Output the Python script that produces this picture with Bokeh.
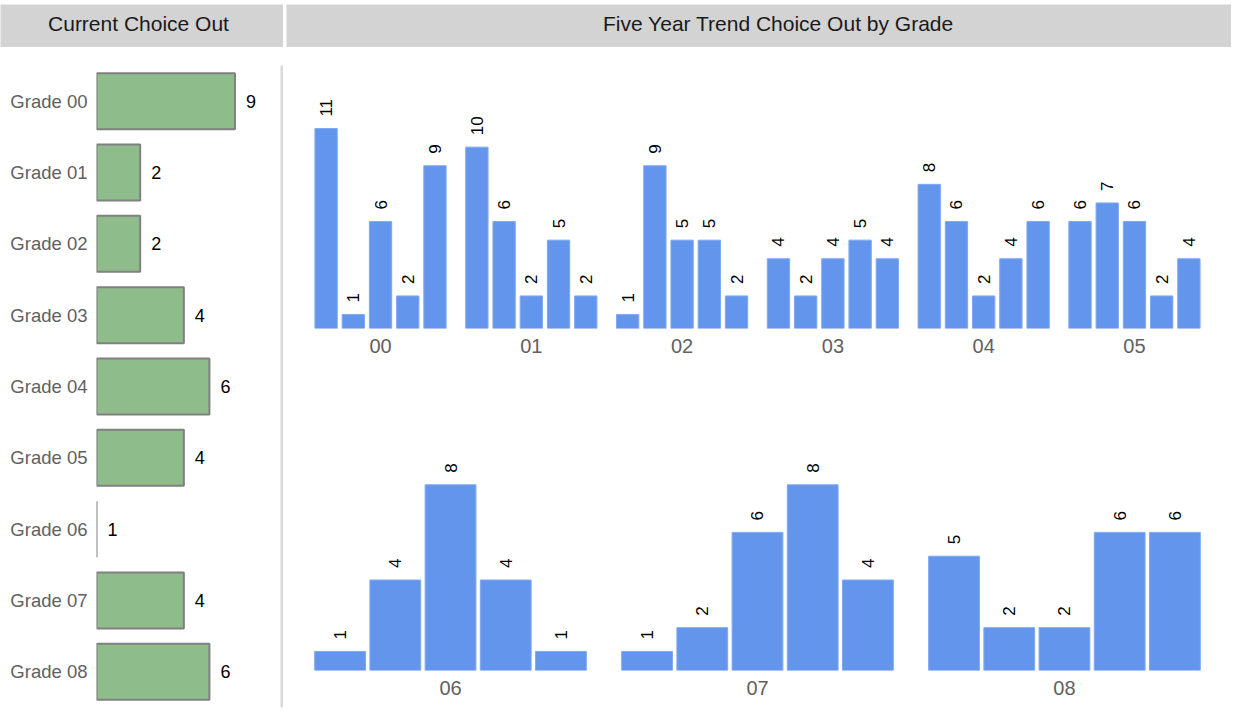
import math
from bokeh.plotting import figure
from bokeh.layouts import row, column
from bokeh.models import ColumnDataSource, Range1d, FactorRange, FixedTicker, Label, LabelSet
from bokeh.core.properties import value
from bokeh.embed import file_html
from bokeh.resources import INLINE

# ---------------- data ----------------
current_grades = ["Grade 00", "Grade 01", "Grade 02", "Grade 03", "Grade 04",
                  "Grade 05", "Grade 06", "Grade 07", "Grade 08"]
current_values = [9, 2, 2, 4, 6, 4, 1, 4, 6]

years = ["Y1", "Y2", "Y3", "Y4", "Y5"]
top_grades = ["00", "01", "02", "03", "04", "05"]
top_values = [
    [11, 1, 6, 2, 9],
    [10, 6, 2, 5, 2],
    [1, 9, 5, 5, 2],
    [4, 2, 4, 5, 4],
    [8, 6, 2, 4, 6],
    [6, 7, 6, 2, 4],
]
bottom_grades = ["06", "07", "08"]
bottom_values = [
    [1, 4, 8, 4, 1],
    [1, 2, 6, 8, 4],
    [5, 2, 2, 6, 6],
]

FONT = "Liberation Sans"
HEADER_BG = "#d3d3d3"
LABEL_GREY = "#616161"


def base_fig(w, h, **kw):
    p = figure(width=w, height=h, toolbar_location=None, output_backend="svg", **kw)
    p.grid.visible = False
    p.outline_line_color = None
    p.background_fill_color = "white"
    p.border_fill_color = "white"
    return p


def header(w, h, text, xfrac):
    p = base_fig(w, h, x_range=Range1d(0, 1), y_range=Range1d(0, 1), min_border=0)
    p.axis.visible = False
    p.background_fill_color = HEADER_BG
    p.border_fill_color = HEADER_BG
    p.add_layout(Label(x=xfrac, y=0.55, text=text, text_font=FONT, text_font_size="21px",
                       text_align="center", text_baseline="middle", text_color="#1a1a1a"))
    return p


def blank(w, h, top, color):
    p = base_fig(w, h, x_range=Range1d(0, 1), y_range=Range1d(0, 1), min_border=0,
                 min_border_top=top)
    p.axis.visible = False
    p.background_fill_color = color
    return p


# ---------------- headers ----------------
top_space = blank(1231, 4, 0, "white")
hdr_left = header(283, 43, "Current Choice Out", 0.4876)
hdr_gap = blank(3, 43, 0, "white")
hdr_right = header(945, 43, "Five Year Trend Choice Out by Grade", 0.5206)

# ---------------- left: current choice out ----------------
src_cur = ColumnDataSource(dict(grade=current_grades, value=current_values,
                                label=[str(v) for v in current_values]))
left = base_fig(280, 670, y_range=FactorRange(factors=current_grades[::-1]),
                x_range=Range1d(1, 17.4), x_axis_type="log",
                min_border_left=96, min_border_right=4, min_border_top=18, min_border_bottom=10)
left.hbar(y="grade", left=1, right="value", height=0.785, source=src_cur,
          fill_color="#8fbc8b", line_color="#808080", line_width=2)
left.add_layout(LabelSet(x="value", y="grade", text="label", source=src_cur, x_offset=11,
                         text_align="left", text_baseline="middle", text_color="#000000",
                         text_font=value(FONT), text_font_size="18px"))
left.xaxis.visible = False
left.yaxis.major_label_text_font = FONT
left.yaxis.major_label_text_font_size = "18.5px"
left.yaxis.major_label_text_color = LABEL_GREY
left.yaxis.major_tick_line_color = None
left.yaxis.minor_tick_line_color = None
left.yaxis.axis_line_color = None
left.yaxis.major_label_standoff = 3

divider = blank(3, 670, 5, "#d9d9d9")


# ---------------- right: trend charts ----------------
def trend(grades, values, gp, bar_w, ymin, ymax, h, top, bottom):
    n = len(years)
    xs, vals, labels = [], [], []
    centers = []
    for gi, g in enumerate(grades):
        start = gi * (n + gp)
        centers.append(start + n / 2)
        for yi in range(n):
            xs.append(start + yi + 0.5)
            vals.append(values[gi][yi])
            labels.append(str(values[gi][yi]))
    src = ColumnDataSource(dict(x=xs, value=vals, label=labels))
    total = len(grades) * n + (len(grades) - 1) * gp
    p = base_fig(948, h, x_range=Range1d(0, total), y_range=Range1d(ymin, ymax),
                 min_border_left=29, min_border_right=29, min_border_top=top,
                 min_border_bottom=bottom)
    p.vbar(x="x", top="value", bottom=0, width=bar_w, source=src,
           fill_color="#6495ed", line_color="#7fa8f0", line_width=1)
    p.add_layout(LabelSet(x="x", y="value", text="label", source=src, angle=math.pi / 2,
                          y_offset=12, text_align="left", text_baseline="middle",
                          text_color="#000000", text_font=value(FONT), text_font_size="17px"))
    p.yaxis.visible = False
    ax = p.xaxis[0]
    ax.ticker = FixedTicker(ticks=centers, minor_ticks=[])
    ax.major_label_overrides = {c: g for c, g in zip(centers, grades)}
    ax.major_label_text_font = FONT
    ax.major_label_text_font_size = "20px"
    ax.major_label_text_color = LABEL_GREY
    ax.major_tick_line_color = None
    ax.minor_tick_line_color = None
    ax.axis_line_color = None
    ax.major_label_standoff = 4
    return p


top_chart = trend(top_grades, top_values, 0.54, 0.82, 0.25, 13.96, 353, 26, 72)
bottom_chart = trend(bottom_grades, bottom_values, 0.56, 0.92, 0.2, 10.28, 317, 30, 47)

layout = column(
    top_space,
    row(hdr_left, hdr_gap, hdr_right),
    row(left, divider, column(top_chart, bottom_chart)),
)

open("out.html", "w").write(file_html(layout, INLINE))
